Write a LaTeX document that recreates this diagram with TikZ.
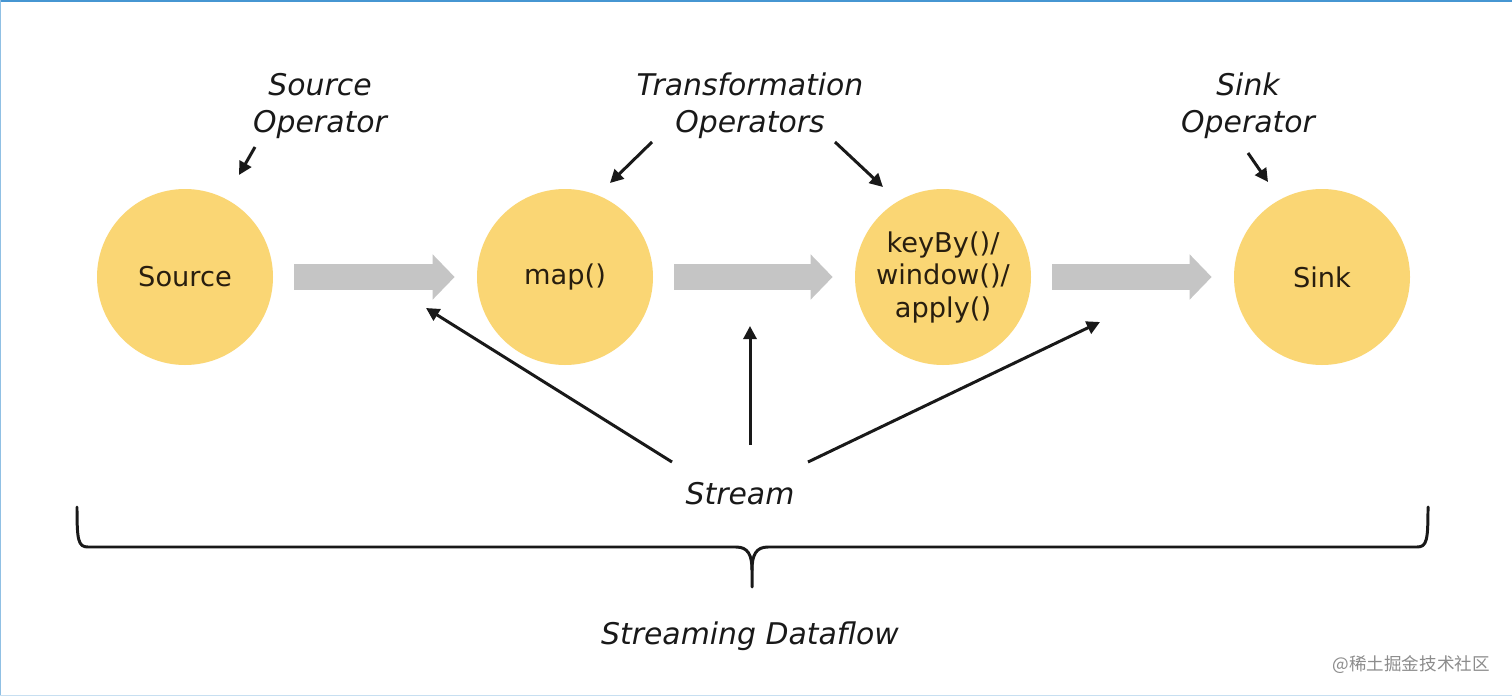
\documentclass[tikz,border=0pt]{standalone}
\usepackage{fontspec}
\setmainfont{DejaVu Sans}
\newfontfamily\cjk{Noto Sans CJK SC}
\usetikzlibrary{arrows.meta,calc}
\definecolor{opfill}{RGB}{250,214,116}
\definecolor{flowgray}{RGB}{197,197,197}
\definecolor{frameblue}{RGB}{70,150,210}
\definecolor{optext}{RGB}{40,30,15}
\tikzset{
  op/.style={circle,fill=opfill,minimum size=176*0.02cm,inner sep=0pt,align=center,
    font=\fontsize{15.5}{18.5}\selectfont,text=optext},
  lbl/.style={align=center,font=\fontsize{17}{21}\selectfont\itshape,text=black!90},
  flow/.style={draw=flowgray,line width=26*0.02cm,
    -{Triangle[length=22*0.02cm,width=44*0.02cm,fill=flowgray]},
    shorten <=21*0.02cm,shorten >=22*0.02cm},
  ptr/.style={draw=black!90,line width=1.7pt,-{Triangle[length=7.5pt,width=7.5pt]}},
  bracepath/.style={draw=black!90,line width=1.7pt,line cap=round,line join=round}
}
\begin{document}
\begin{tikzpicture}[x=0.02cm,y=-0.02cm]
\useasboundingbox (0,0) rectangle (1512,696);
\fill[white] (0,0) rectangle (1512,696);
% frame
\draw[frameblue,line width=2.5pt] (0,0) -- (1512,0);
\draw[frameblue!60,line width=1.5pt] (0,0) -- (0,696);
\draw[frameblue!30,line width=1.5pt] (0,696) -- (1512,696);

% operators
\node[op] (src) at (185,277) {Source};
\node[op] (map) at (565,277) {map()};
\node[op] (key) at (943,277) {keyBy()/\\window()/\\apply()};
\node[op] (sink) at (1322,277) {Sink};

% data flow arrows
\draw[flow] (src.east) -- (map.west);
\draw[flow] (map.east) -- (key.west);
\draw[flow] (key.east) -- (sink.west);

% labels
\node[lbl] (srcop) at (320,106) {Source\\Operator};
\node[lbl] (trop) at (750,106) {Transformation\\Operators};
\node[lbl] (sinkop) at (1248,106) {Sink\\Operator};
\node[lbl] (stream) at (740,494) {Stream};
\node[lbl] (sdf) at (750,636) {Streaming Dataflow};

% label pointers
\coordinate (a1s) at (255,147); \coordinate (a1e) at (239,175);
\coordinate (a2s) at (652,142); \coordinate (a2e) at (610,183);
\coordinate (a3s) at (835,142); \coordinate (a3e) at (883,187);
\coordinate (a4s) at (1248,153); \coordinate (a4e) at (1268,182);
\draw[ptr] (a1s) -- (a1e);
\draw[ptr] (a2s) -- (a2e);
\draw[ptr] (a3s) -- (a3e);
\draw[ptr] (a4s) -- (a4e);

% stream pointers
\coordinate (s1s) at (672,462); \coordinate (s1e) at (426,308);
\coordinate (s2s) at (750,445); \coordinate (s2e) at (750,326);
\coordinate (s3s) at (808,462); \coordinate (s3e) at (1100,322);
\draw[ptr] (s1s) -- (s1e);
\draw[ptr] (s2s) -- (s2e);
\draw[ptr] (s3s) -- (s3e);

% brace
\coordinate (bl) at (77,507);
\coordinate (br) at (1428,507);
\coordinate (bm) at (752,587);
\draw[bracepath] (bl) .. controls (77,540) and (78,547) .. (88,547)
  -- (736,547) .. controls (748,547) and (752,555) .. (752,570) -- (bm);
\draw[bracepath] (br) .. controls (1428,540) and (1427,547) .. (1417,547)
  -- (768,547) .. controls (756,547) and (752,555) .. (752,570);

% watermark
\node[text=black!45,font=\cjk\fontsize{10}{12}\selectfont,anchor=east] (wm) at (1496,665) {@稀土掘金技术社区};
\end{tikzpicture}
\end{document}
